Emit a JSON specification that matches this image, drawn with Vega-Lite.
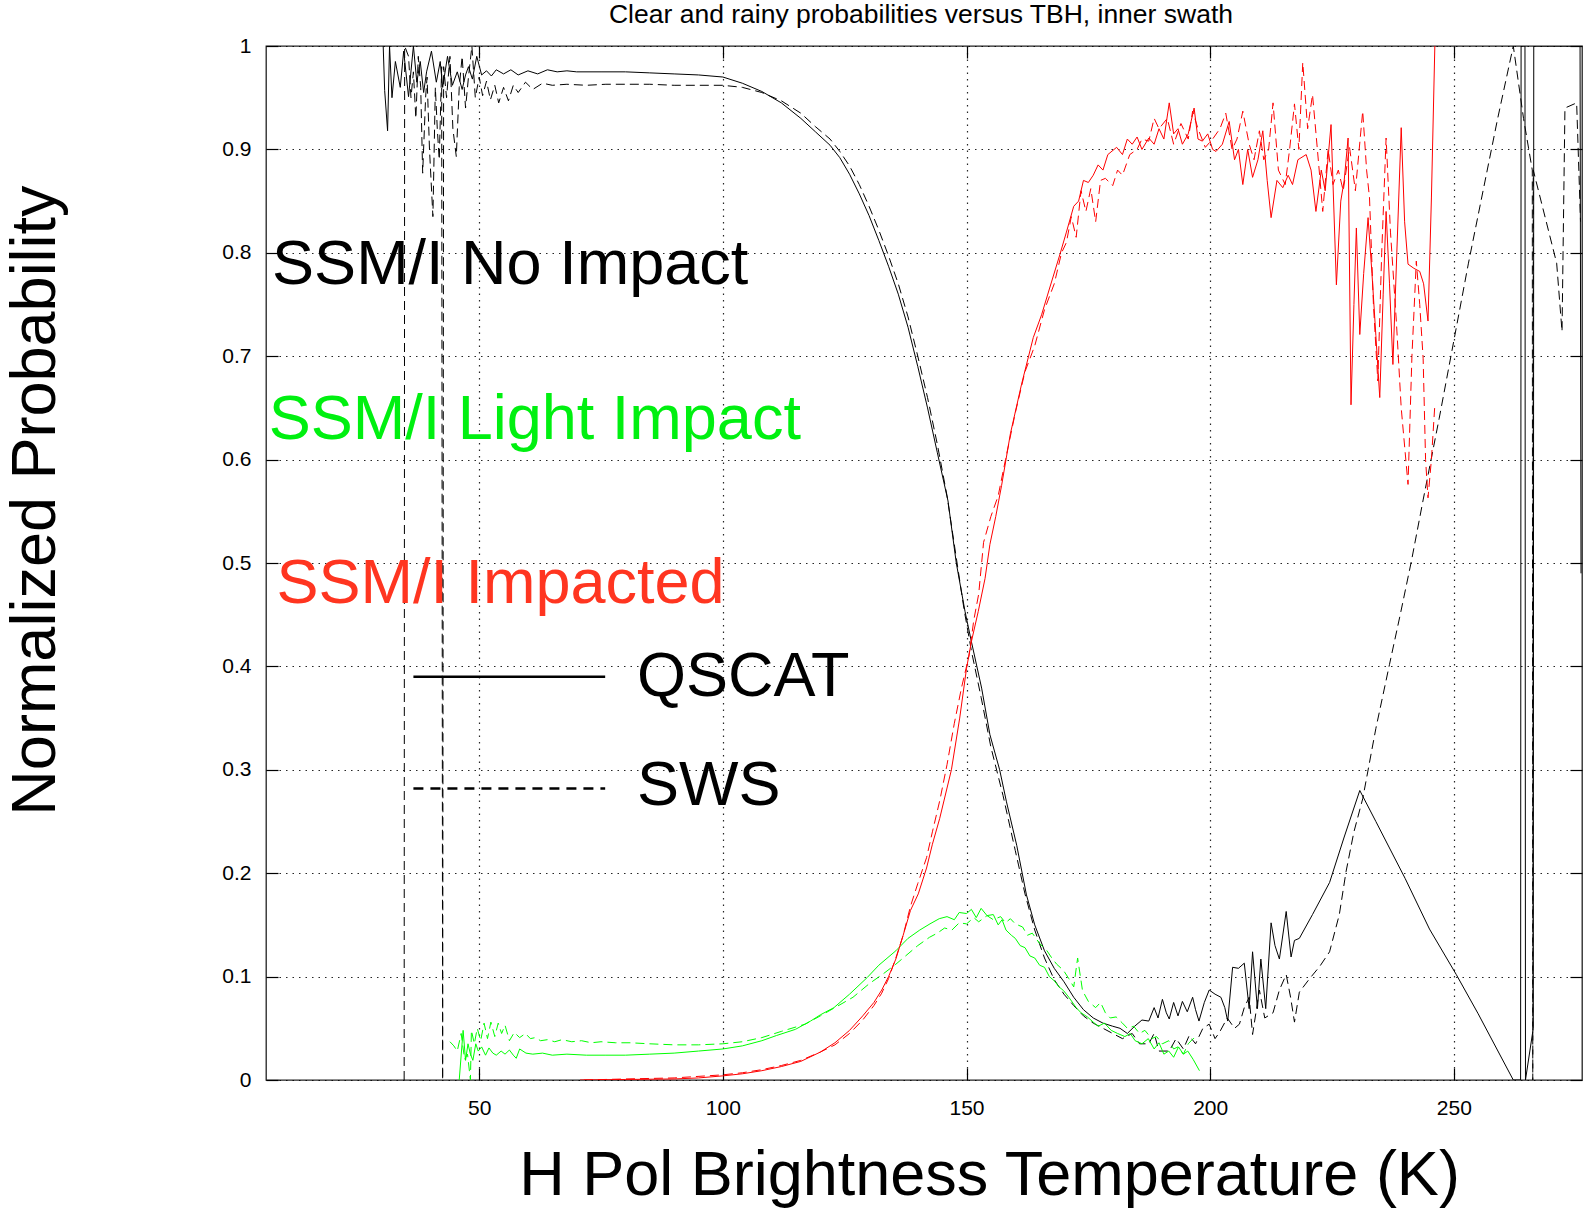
{
"$schema":"https://vega.github.io/schema/vega-lite/v6.json",
"autosize":{"type":"none"},
"padding":{"left":266,"top":46,"right":3,"bottom":128},
"width":1316,"height":1034,
"background":"white",
"config":{"view":{"stroke":"#222","strokeWidth":1.3},"font":"Liberation Sans"},
"title":{"text":"Clear and rainy probabilities versus TBH, inner swath","fontSize":26.5,"font":"Liberation Sans","fontWeight":"normal","color":"#000","anchor":"middle","dx":-3,"offset":-14,"baseline":"alphabetic","frame":"group"},
"datasets":{
"nq":[{"x":30.3,"y":1},{"x":30.6,"y":0.957},{"x":31.2,"y":0.918},{"x":31.6,"y":1},{"x":32.1,"y":0.95},{"x":32.8,"y":0.985},{"x":33.8,"y":0.96},{"x":34.5,"y":0.995},{"x":35.5,"y":0.951},{"x":36.5,"y":1},{"x":37.2,"y":0.965},{"x":37.9,"y":0.985},{"x":38.6,"y":0.955},{"x":39.2,"y":0.975},{"x":40.2,"y":0.995},{"x":41.2,"y":0.965},{"x":42,"y":0.985},{"x":42.5,"y":0.96},{"x":43.5,"y":0.99},{"x":44.5,"y":0.962},{"x":45.5,"y":0.975},{"x":46.5,"y":0.958},{"x":47.2,"y":0.972},{"x":47.8,"y":0.98},{"x":48.6,"y":0.968},{"x":49.5,"y":0.99},{"x":50.5,"y":0.972},{"x":51.5,"y":0.976},{"x":52.5,"y":0.971},{"x":53.5,"y":0.977},{"x":55,"y":0.973},{"x":56.5,"y":0.977},{"x":58,"y":0.972},{"x":60,"y":0.976},{"x":62,"y":0.973},{"x":64,"y":0.977},{"x":66,"y":0.975},{"x":68,"y":0.976},{"x":70,"y":0.975},{"x":75,"y":0.975},{"x":80,"y":0.975},{"x":85,"y":0.974},{"x":90,"y":0.973},{"x":95,"y":0.972},{"x":100,"y":0.97},{"x":104,"y":0.964},{"x":108,"y":0.956},{"x":112,"y":0.945},{"x":116,"y":0.93},{"x":119,"y":0.917},{"x":122,"y":0.904},{"x":124,"y":0.892},{"x":126,"y":0.876},{"x":128,"y":0.857},{"x":130,"y":0.836},{"x":132,"y":0.812},{"x":134,"y":0.787},{"x":136,"y":0.76},{"x":138,"y":0.728},{"x":140,"y":0.69},{"x":142,"y":0.65},{"x":144,"y":0.607},{"x":146.2,"y":0.56},{"x":147.9,"y":0.5},{"x":149.7,"y":0.453},{"x":151,"y":0.424},{"x":153.1,"y":0.379},{"x":154.8,"y":0.334},{"x":156.8,"y":0.3},{"x":158.2,"y":0.269},{"x":160.3,"y":0.227},{"x":162.3,"y":0.179},{"x":164,"y":0.15},{"x":166,"y":0.125},{"x":168,"y":0.108},{"x":170,"y":0.095},{"x":172,"y":0.08},{"x":174,"y":0.068},{"x":176,"y":0.06},{"x":178,"y":0.055},{"x":180,"y":0.052},{"x":181.5,"y":0.05},{"x":183,"y":0.045},{"x":184.5,"y":0.052},{"x":186,"y":0.058},{"x":187.4,"y":0.057},{"x":188.5,"y":0.07},{"x":189.3,"y":0.06},{"x":190.2,"y":0.078},{"x":191,"y":0.065},{"x":191.6,"y":0.059},{"x":192.5,"y":0.075},{"x":193.4,"y":0.062},{"x":194.3,"y":0.076},{"x":195.3,"y":0.066},{"x":196.4,"y":0.08},{"x":197,"y":0.068},{"x":197.7,"y":0.057},{"x":198.8,"y":0.075},{"x":199.8,"y":0.087},{"x":201,"y":0.083},{"x":202.2,"y":0.08},{"x":203,"y":0.07},{"x":203.6,"y":0.057},{"x":204.6,"y":0.109},{"x":205.8,"y":0.108},{"x":207,"y":0.113},{"x":208,"y":0.069},{"x":208.7,"y":0.124},{"x":209.7,"y":0.069},{"x":210.4,"y":0.117},{"x":211.4,"y":0.069},{"x":212.5,"y":0.152},{"x":213.3,"y":0.13},{"x":214.2,"y":0.117},{"x":215.6,"y":0.163},{"x":216.6,"y":0.119},{"x":217.3,"y":0.135},{"x":218.3,"y":0.137},{"x":221,"y":0.16},{"x":224.5,"y":0.191},{"x":227.5,"y":0.235},{"x":230.7,"y":0.28},{"x":234,"y":0.25},{"x":240,"y":0.195},{"x":245,"y":0.146},{"x":250.5,"y":0.102},{"x":255,"y":0.064},{"x":262.2,"y":0},{"x":263.7,"y":0},{"x":263.8,"y":1},{"x":264.6,"y":1},{"x":264.7,"y":0},{"x":266.3,"y":0.05},{"x":266.4,"y":1},{"x":275.9,"y":1},{"x":276.1,"y":0.49}],
"ns":[{"x":34.6,"y":0},{"x":34.7,"y":1},{"x":35.5,"y":0.99},{"x":36,"y":0.95},{"x":36.5,"y":0.975},{"x":37,"y":0.93},{"x":37.5,"y":0.99},{"x":38,"y":0.96},{"x":38.4,"y":0.877},{"x":39,"y":0.95},{"x":39.3,"y":0.97},{"x":39.8,"y":0.9},{"x":40.5,"y":0.835},{"x":41,"y":0.96},{"x":41.4,"y":0.92},{"x":41.8,"y":0.89},{"x":42.3,"y":0.98},{"x":42.5,"y":0},{"x":42.7,"y":0.98},{"x":43.3,"y":0.95},{"x":44,"y":0.99},{"x":44.6,"y":0.92},{"x":45.3,"y":0.893},{"x":45.9,"y":0.96},{"x":46.5,"y":0.99},{"x":47.2,"y":0.94},{"x":47.8,"y":0.97},{"x":48.5,"y":1},{"x":49.2,"y":0.95},{"x":50,"y":0.97},{"x":50.7,"y":0.952},{"x":51.5,"y":0.966},{"x":52.3,"y":0.948},{"x":53.2,"y":0.962},{"x":54,"y":0.945},{"x":55,"y":0.96},{"x":56,"y":0.947},{"x":57,"y":0.962},{"x":58,"y":0.955},{"x":59.5,"y":0.965},{"x":61,"y":0.958},{"x":63,"y":0.964},{"x":65,"y":0.962},{"x":68,"y":0.963},{"x":72,"y":0.962},{"x":76,"y":0.963},{"x":80,"y":0.963},{"x":85,"y":0.963},{"x":90,"y":0.962},{"x":95,"y":0.962},{"x":100,"y":0.962},{"x":104,"y":0.96},{"x":108,"y":0.955},{"x":112,"y":0.947},{"x":116,"y":0.935},{"x":119,"y":0.922},{"x":122,"y":0.91},{"x":124,"y":0.898},{"x":126,"y":0.884},{"x":128,"y":0.866},{"x":130,"y":0.845},{"x":132,"y":0.822},{"x":134,"y":0.797},{"x":136,"y":0.77},{"x":138,"y":0.738},{"x":140,"y":0.7},{"x":142,"y":0.66},{"x":144,"y":0.615},{"x":146,"y":0.565},{"x":147.9,"y":0.505},{"x":149.5,"y":0.455},{"x":151,"y":0.415},{"x":153,"y":0.37},{"x":155,"y":0.322},{"x":157.5,"y":0.275},{"x":160,"y":0.222},{"x":162,"y":0.18},{"x":164,"y":0.145},{"x":166,"y":0.118},{"x":168,"y":0.097},{"x":170,"y":0.083},{"x":172,"y":0.072},{"x":174,"y":0.062},{"x":176,"y":0.055},{"x":178,"y":0.05},{"x":180,"y":0.045},{"x":182,"y":0.04},{"x":184,"y":0.045},{"x":185.5,"y":0.035},{"x":187.4,"y":0.035},{"x":188.5,"y":0.045},{"x":189.5,"y":0.028},{"x":191.6,"y":0.028},{"x":193,"y":0.04},{"x":194.5,"y":0.03},{"x":195.7,"y":0.043},{"x":197,"y":0.035},{"x":198.5,"y":0.05},{"x":199.8,"y":0.054},{"x":201,"y":0.04},{"x":201.9,"y":0.046},{"x":203.5,"y":0.06},{"x":205,"y":0.05},{"x":206,"y":0.054},{"x":207,"y":0.07},{"x":208,"y":0.08},{"x":208.7,"y":0.044},{"x":210.1,"y":0.087},{"x":211.2,"y":0.06},{"x":212.9,"y":0.065},{"x":214.2,"y":0.087},{"x":215.6,"y":0.102},{"x":216.5,"y":0.08},{"x":217.3,"y":0.056},{"x":218.3,"y":0.085},{"x":220.4,"y":0.098},{"x":222.5,"y":0.11},{"x":224.5,"y":0.124},{"x":226.5,"y":0.16},{"x":227.9,"y":0.202},{"x":229.5,"y":0.24},{"x":231.3,"y":0.272},{"x":234,"y":0.34},{"x":236.8,"y":0.402},{"x":239,"y":0.45},{"x":241.3,"y":0.502},{"x":243.7,"y":0.561},{"x":247,"y":0.64},{"x":250,"y":0.715},{"x":253,"y":0.79},{"x":256,"y":0.86},{"x":259,"y":0.93},{"x":262.2,"y":1},{"x":264.3,"y":0.93},{"x":266.1,"y":0.88},{"x":266.2,"y":0},{"x":266.3,"y":0.88},{"x":271.1,"y":0.79},{"x":272.2,"y":0.724},{"x":272.8,"y":0.94},{"x":275.2,"y":0.945},{"x":276,"y":0.83}],
"lq":[{"x":45.9,"y":0},{"x":46.7,"y":0.048},{"x":47.2,"y":0.019},{"x":47.7,"y":0.035},{"x":48.2,"y":0.025},{"x":48.7,"y":0.019},{"x":49.3,"y":0.035},{"x":49.8,"y":0.028},{"x":50.5,"y":0.032},{"x":51.3,"y":0.024},{"x":52,"y":0.031},{"x":52.8,"y":0.026},{"x":53.5,"y":0.024},{"x":54.5,"y":0.028},{"x":55.3,"y":0.025},{"x":56.2,"y":0.029},{"x":57,"y":0.024},{"x":57.6,"y":0.021},{"x":58.3,"y":0.03},{"x":59.6,"y":0.026},{"x":61,"y":0.025},{"x":63,"y":0.026},{"x":65,"y":0.024},{"x":68,"y":0.025},{"x":72,"y":0.024},{"x":76,"y":0.024},{"x":80,"y":0.024},{"x":85,"y":0.025},{"x":90,"y":0.026},{"x":95,"y":0.028},{"x":100,"y":0.03},{"x":104,"y":0.033},{"x":108,"y":0.038},{"x":111,"y":0.043},{"x":114.9,"y":0.049},{"x":118,"y":0.057},{"x":120,"y":0.063},{"x":122.8,"y":0.07},{"x":126,"y":0.083},{"x":129.6,"y":0.099},{"x":132,"y":0.111},{"x":135.5,"y":0.125},{"x":138,"y":0.137},{"x":140.4,"y":0.145},{"x":142.5,"y":0.151},{"x":144.4,"y":0.156},{"x":146,"y":0.158},{"x":147.5,"y":0.155},{"x":148.5,"y":0.162},{"x":150,"y":0.161},{"x":151,"y":0.165},{"x":152,"y":0.157},{"x":153,"y":0.166},{"x":154.2,"y":0.159},{"x":155.5,"y":0.16},{"x":156.5,"y":0.15},{"x":157.3,"y":0.155},{"x":158.1,"y":0.145},{"x":159.2,"y":0.14},{"x":160,"y":0.137},{"x":161,"y":0.13},{"x":162,"y":0.128},{"x":163,"y":0.12},{"x":164,"y":0.118},{"x":165,"y":0.111},{"x":166,"y":0.109},{"x":167,"y":0.1},{"x":168,"y":0.096},{"x":169,"y":0.09},{"x":169.9,"y":0.0865},{"x":171,"y":0.08},{"x":172.5,"y":0.07},{"x":173.5,"y":0.065},{"x":174.8,"y":0.061},{"x":176,"y":0.056},{"x":177,"y":0.052},{"x":178.3,"y":0.055},{"x":179.7,"y":0.048},{"x":181,"y":0.045},{"x":182.5,"y":0.042},{"x":183.6,"y":0.045},{"x":184.6,"y":0.038},{"x":186,"y":0.035},{"x":187.3,"y":0.04},{"x":188.5,"y":0.03},{"x":189.5,"y":0.036},{"x":190.5,"y":0.025},{"x":191.5,"y":0.028},{"x":192.5,"y":0.022},{"x":193.5,"y":0.032},{"x":194.5,"y":0.025},{"x":195.4,"y":0.028},{"x":196.5,"y":0.02},{"x":197.8,"y":0.009}],
"ls":[{"x":44,"y":0.037},{"x":44.8,"y":0.033},{"x":45.5,"y":0.028},{"x":46.3,"y":0.045},{"x":47,"y":0.02},{"x":47.6,"y":0.025},{"x":48.2,"y":0},{"x":48.4,"y":0.048},{"x":49,"y":0.035},{"x":49.6,"y":0.05},{"x":50.3,"y":0.038},{"x":51,"y":0.055},{"x":51.7,"y":0.04},{"x":52.4,"y":0.056},{"x":53.2,"y":0.042},{"x":53.9,"y":0.055},{"x":54.6,"y":0.045},{"x":55.3,"y":0.053},{"x":56.2,"y":0.038},{"x":57.2,"y":0.046},{"x":58.3,"y":0.041},{"x":59.5,"y":0.045},{"x":60.5,"y":0.04},{"x":61.5,"y":0.041},{"x":62.6,"y":0.038},{"x":64,"y":0.039},{"x":65.5,"y":0.037},{"x":67,"y":0.039},{"x":69,"y":0.037},{"x":71,"y":0.038},{"x":73,"y":0.036},{"x":75,"y":0.037},{"x":78,"y":0.036},{"x":81,"y":0.036},{"x":85,"y":0.035},{"x":90,"y":0.034},{"x":95,"y":0.034},{"x":100,"y":0.035},{"x":104,"y":0.037},{"x":108,"y":0.041},{"x":112,"y":0.047},{"x":116.9,"y":0.054},{"x":120,"y":0.062},{"x":123,"y":0.07},{"x":126.7,"y":0.08},{"x":130,"y":0.093},{"x":133,"y":0.103},{"x":135.5,"y":0.112},{"x":138,"y":0.122},{"x":140,"y":0.13},{"x":142.4,"y":0.138},{"x":144,"y":0.142},{"x":145.5,"y":0.147},{"x":147,"y":0.145},{"x":148.5,"y":0.152},{"x":150,"y":0.151},{"x":151.5,"y":0.157},{"x":152.5,"y":0.153},{"x":154.2,"y":0.159},{"x":155.5,"y":0.155},{"x":157,"y":0.158},{"x":158,"y":0.152},{"x":159,"y":0.156},{"x":160,"y":0.151},{"x":161.5,"y":0.148},{"x":162.5,"y":0.14},{"x":163.5,"y":0.142},{"x":165,"y":0.132},{"x":166.5,"y":0.125},{"x":167.5,"y":0.118},{"x":168.5,"y":0.112},{"x":169.9,"y":0.106},{"x":171,"y":0.098},{"x":172,"y":0.09},{"x":172.8,"y":0.118},{"x":173.8,"y":0.0865},{"x":175,"y":0.076},{"x":176.5,"y":0.07},{"x":177.5,"y":0.075},{"x":178.5,"y":0.065},{"x":179.5,"y":0.06},{"x":180.7,"y":0.061},{"x":182,"y":0.055},{"x":183,"y":0.05},{"x":184.3,"y":0.052},{"x":185.5,"y":0.045},{"x":186.6,"y":0.048},{"x":188,"y":0.04},{"x":189,"y":0.042},{"x":190.2,"y":0.035},{"x":191.5,"y":0.038},{"x":192.5,"y":0.03},{"x":193.4,"y":0.032},{"x":194.5,"y":0.025},{"x":195.5,"y":0.035},{"x":196.5,"y":0.04},{"x":197.3,"y":0.041}],
"iq":[{"x":70.7,"y":0},{"x":80,"y":0.0005},{"x":90,"y":0.001},{"x":95,"y":0.002},{"x":100,"y":0.004},{"x":104,"y":0.006},{"x":108,"y":0.009},{"x":112,"y":0.013},{"x":116,"y":0.018},{"x":120,"y":0.027},{"x":123,"y":0.036},{"x":126,"y":0.048},{"x":128.7,"y":0.062},{"x":131,"y":0.075},{"x":132.6,"y":0.087},{"x":134,"y":0.1},{"x":135.5,"y":0.117},{"x":137,"y":0.14},{"x":138.5,"y":0.164},{"x":140.1,"y":0.18},{"x":141.8,"y":0.205},{"x":143,"y":0.228},{"x":144.5,"y":0.253},{"x":146.9,"y":0.3},{"x":148.6,"y":0.35},{"x":150,"y":0.398},{"x":151,"y":0.424},{"x":152.4,"y":0.453},{"x":153.8,"y":0.485},{"x":154.8,"y":0.518},{"x":156,"y":0.545},{"x":157.2,"y":0.575},{"x":159,"y":0.625},{"x":161.3,"y":0.673},{"x":163.7,"y":0.718},{"x":165.4,"y":0.74},{"x":167,"y":0.765},{"x":169.2,"y":0.799},{"x":170.5,"y":0.82},{"x":172,"y":0.845},{"x":173,"y":0.85},{"x":174,"y":0.87},{"x":175,"y":0.868},{"x":176,"y":0.875},{"x":177,"y":0.885},{"x":178,"y":0.88},{"x":179,"y":0.895},{"x":180.8,"y":0.902},{"x":182,"y":0.895},{"x":183,"y":0.91},{"x":184,"y":0.905},{"x":185,"y":0.912},{"x":186,"y":0.9},{"x":187.4,"y":0.911},{"x":188.5,"y":0.905},{"x":189.5,"y":0.92},{"x":190.5,"y":0.91},{"x":191.6,"y":0.945},{"x":192.5,"y":0.915},{"x":193.4,"y":0.92},{"x":194.3,"y":0.905},{"x":195.5,"y":0.915},{"x":196.7,"y":0.94},{"x":197.5,"y":0.91},{"x":198.4,"y":0.908},{"x":199.5,"y":0.915},{"x":200.5,"y":0.9},{"x":201.2,"y":0.898},{"x":202.5,"y":0.905},{"x":203.9,"y":0.927},{"x":205,"y":0.89},{"x":205.8,"y":0.9},{"x":206.7,"y":0.866},{"x":207.7,"y":0.9},{"x":208.7,"y":0.873},{"x":209.8,"y":0.89},{"x":210.8,"y":0.918},{"x":211.7,"y":0.87},{"x":212.5,"y":0.834},{"x":213.7,"y":0.87},{"x":214.9,"y":0.863},{"x":216,"y":0.875},{"x":216.9,"y":0.866},{"x":218,"y":0.89},{"x":219.7,"y":0.895},{"x":220.7,"y":0.88},{"x":221.7,"y":0.84},{"x":222.8,"y":0.88},{"x":223.6,"y":0.86},{"x":224.8,"y":0.924},{"x":225.9,"y":0.769},{"x":226.8,"y":0.85},{"x":227.5,"y":0.87},{"x":228.3,"y":0.911},{"x":228.9,"y":0.653},{"x":229.5,"y":0.75},{"x":230,"y":0.824},{"x":230.7,"y":0.721},{"x":231.5,"y":0.78},{"x":232.4,"y":0.834},{"x":233.2,"y":0.78},{"x":234,"y":0.72},{"x":234.8,"y":0.66},{"x":235.5,"y":0.76},{"x":236.1,"y":0.84},{"x":236.8,"y":0.77},{"x":237.5,"y":0.692},{"x":238.3,"y":0.8},{"x":239.2,"y":0.921},{"x":239.9,"y":0.83},{"x":240.6,"y":0.789},{"x":241.8,"y":0.785},{"x":243,"y":0.782},{"x":243.8,"y":0.77},{"x":244.7,"y":0.734},{"x":245.4,"y":0.853},{"x":246.1,"y":1}],
"is":[{"x":71.5,"y":0},{"x":80,"y":0.001},{"x":90,"y":0.002},{"x":100,"y":0.005},{"x":104,"y":0.007},{"x":108,"y":0.01},{"x":112,"y":0.014},{"x":116,"y":0.019},{"x":120,"y":0.027},{"x":123,"y":0.034},{"x":126,"y":0.045},{"x":128.7,"y":0.058},{"x":131,"y":0.072},{"x":132.6,"y":0.084},{"x":134,"y":0.098},{"x":135.5,"y":0.118},{"x":137,"y":0.14},{"x":138.5,"y":0.168},{"x":140,"y":0.19},{"x":141.8,"y":0.215},{"x":143,"y":0.24},{"x":144.5,"y":0.27},{"x":146,"y":0.305},{"x":147.5,"y":0.345},{"x":149,"y":0.38},{"x":150.5,"y":0.41},{"x":151.5,"y":0.445},{"x":152.5,"y":0.47},{"x":153.5,"y":0.52},{"x":155,"y":0.545},{"x":156.5,"y":0.565},{"x":158,"y":0.6},{"x":160,"y":0.645},{"x":162,"y":0.685},{"x":164,"y":0.71},{"x":166,"y":0.745},{"x":168,"y":0.77},{"x":169.5,"y":0.8},{"x":170.5,"y":0.81},{"x":171.5,"y":0.835},{"x":172.5,"y":0.815},{"x":173.5,"y":0.86},{"x":174.5,"y":0.84},{"x":175.5,"y":0.862},{"x":176.5,"y":0.83},{"x":177.5,"y":0.87},{"x":178.5,"y":0.872},{"x":180,"y":0.865},{"x":181,"y":0.88},{"x":182,"y":0.875},{"x":183.5,"y":0.895},{"x":185,"y":0.9},{"x":186,"y":0.91},{"x":187.4,"y":0.908},{"x":188.5,"y":0.93},{"x":189.5,"y":0.92},{"x":191.2,"y":0.93},{"x":192.5,"y":0.905},{"x":194,"y":0.925},{"x":195.5,"y":0.91},{"x":196.4,"y":0.937},{"x":197.5,"y":0.92},{"x":199,"y":0.902},{"x":200.5,"y":0.91},{"x":202,"y":0.92},{"x":203.2,"y":0.935},{"x":204.5,"y":0.9},{"x":205.5,"y":0.91},{"x":206.7,"y":0.937},{"x":208,"y":0.905},{"x":209,"y":0.89},{"x":210.1,"y":0.918},{"x":211,"y":0.89},{"x":212,"y":0.9},{"x":212.9,"y":0.945},{"x":214,"y":0.88},{"x":215.4,"y":0.866},{"x":216.3,"y":0.9},{"x":217.3,"y":0.944},{"x":218.2,"y":0.9},{"x":219,"y":0.984},{"x":220,"y":0.92},{"x":221,"y":0.953},{"x":222,"y":0.9},{"x":223.1,"y":0.84},{"x":224.2,"y":0.9},{"x":225.2,"y":0.866},{"x":226.3,"y":0.88},{"x":227.3,"y":0.86},{"x":228.6,"y":0.902},{"x":229.8,"y":0.86},{"x":231.3,"y":0.937},{"x":232.1,"y":0.88},{"x":232.7,"y":0.853},{"x":233.5,"y":0.75},{"x":234.4,"y":0.676},{"x":235.2,"y":0.8},{"x":236.1,"y":0.911},{"x":237,"y":0.82},{"x":238.2,"y":0.734},{"x":239.2,"y":0.65},{"x":240.6,"y":0.576},{"x":241.4,"y":0.7},{"x":242.3,"y":0.792},{"x":243,"y":0.75},{"x":243.7,"y":0.698},{"x":244.2,"y":0.6},{"x":244.7,"y":0.563},{"x":245.4,"y":0.6},{"x":246.1,"y":0.653}],
"texts":[{"t":"SSM/I No Impact","g":"No Impact","x":7.5,"y":0.7696},{"t":"SSM/I Light Impact","g":"Light Impact","x":6.8,"y":0.6204},{"t":"SSM/I Impacted","g":"Impacted","x":8.4,"y":0.4609},{"t":"QSCAT","g":"No Impact","x":82.4,"y":0.3716},{"t":"SWS","g":"No Impact","x":82.4,"y":0.2659}],
"leg":[{"src":"QSCAT","x":36.5,"y":0.39},{"src":"QSCAT","x":75.85,"y":0.39},{"src":"SWS","x":36.5,"y":0.282},{"src":"SWS","x":75.85,"y":0.282}]
},
"encoding":{
"x":{"field":"x","type":"quantitative","scale":{"domain":[6.25,276.3],"nice":false,"zero":false},"axis":null},
"y":{"field":"y","type":"quantitative","scale":{"domain":[0,1],"nice":false,"zero":false},"axis":null}
},
"layer":[
{"data":{"name":"nq"},"mark":{"type":"line","color":"#000","strokeWidth":1,"clip":true},
 "encoding":{
  "x":{"field":"x","type":"quantitative","scale":{"domain":[6.25,276.3],"nice":false,"zero":false},
   "axis":{"orient":"bottom","values":[50,100,150,200,250],"grid":true,"gridColor":"#000","gridDash":[1.5,5],"gridWidth":1.2,"gridOpacity":0.85,"domain":false,"ticks":true,"tickSize":-12,"tickColor":"#000","tickWidth":1.2,"labelFontSize":21,"labelColor":"#000","labelPadding":29,"labelFont":"Liberation Sans","title":"H Pol Brightness Temperature (K)","titleFontSize":63,"titleFont":"Liberation Sans","titleFontWeight":"normal","titleColor":"#000","titleX":723,"titleY":114,"titleBaseline":"alphabetic","titleAlign":"center","titleAnchor":null}},
  "y":{"field":"y","type":"quantitative","scale":{"domain":[0,1],"nice":false,"zero":false},
   "axis":{"orient":"left","values":[0,0.1,0.2,0.3,0.4,0.5,0.6,0.7,0.8,0.9,1],"format":"~g","grid":true,"gridColor":"#000","gridDash":[1.5,5],"gridWidth":1.2,"gridOpacity":0.85,"domain":false,"ticks":true,"tickSize":-12,"tickColor":"#000","tickWidth":1.2,"labelFontSize":21,"labelColor":"#000","labelPadding":27,"labelFont":"Liberation Sans","title":"Normalized Probability","titleFontSize":63,"titleFont":"Liberation Sans","titleFontWeight":"normal","titleColor":"#000","titleAngle":270,"titleX":-212,"titleY":454,"titleBaseline":"alphabetic","titleAlign":"center","titleAnchor":null}},
  "order":{"value":null}}},
{"data":{"name":"ns"},"mark":{"type":"line","color":"#000","strokeWidth":1,"strokeDash":[9,5],"clip":true},"encoding":{"order":{"value":null}}},
{"data":{"name":"lq"},"mark":{"type":"line","color":"#00ff00","strokeWidth":1,"clip":true},"encoding":{"order":{"value":null}}},
{"data":{"name":"ls"},"mark":{"type":"line","color":"#00ff00","strokeWidth":1,"strokeDash":[9,5],"clip":true},"encoding":{"order":{"value":null}}},
{"data":{"name":"iq"},"mark":{"type":"line","color":"#ff0000","strokeWidth":1,"clip":true},"encoding":{"order":{"value":null}}},
{"data":{"name":"is"},"mark":{"type":"line","color":"#ff0000","strokeWidth":1,"strokeDash":[9,5],"clip":true},"encoding":{"order":{"value":null}}},
{"data":{"name":"leg"},"mark":{"type":"line","color":"#000","strokeWidth":2.5},
 "encoding":{"strokeDash":{"field":"src","type":"nominal","scale":{"domain":["QSCAT","SWS"],"range":[[1,0],[10,7]]},"legend":null},"detail":{"field":"src"}}},
{"data":{"name":"texts"},"mark":{"type":"text","align":"left","baseline":"alphabetic","fontSize":63,"font":"Liberation Sans"},
 "encoding":{
  "x":{"field":"x","type":"quantitative","scale":{"domain":[6.25,276.3],"nice":false,"zero":false},
   "axis":{"orient":"top","values":[50,100,150,200,250],"labels":false,"grid":false,"domain":false,"ticks":true,"tickSize":-12,"tickColor":"#000","tickWidth":1.2,"title":null}},
  "y":{"field":"y","type":"quantitative","scale":{"domain":[0,1],"nice":false,"zero":false},
   "axis":{"orient":"right","values":[0,0.1,0.2,0.3,0.4,0.5,0.6,0.7,0.8,0.9,1],"labels":false,"grid":false,"domain":false,"ticks":true,"tickSize":-12,"tickColor":"#000","tickWidth":1.2,"title":null}},
  "text":{"field":"t","type":"nominal"},
  "color":{"field":"g","type":"nominal","scale":{"domain":["No Impact","Light Impact","Impacted"],"range":["#000000","#00f010","#ff3520"]},"legend":null}}}
],
"resolve":{"axis":{"x":"independent","y":"independent"}}
}
